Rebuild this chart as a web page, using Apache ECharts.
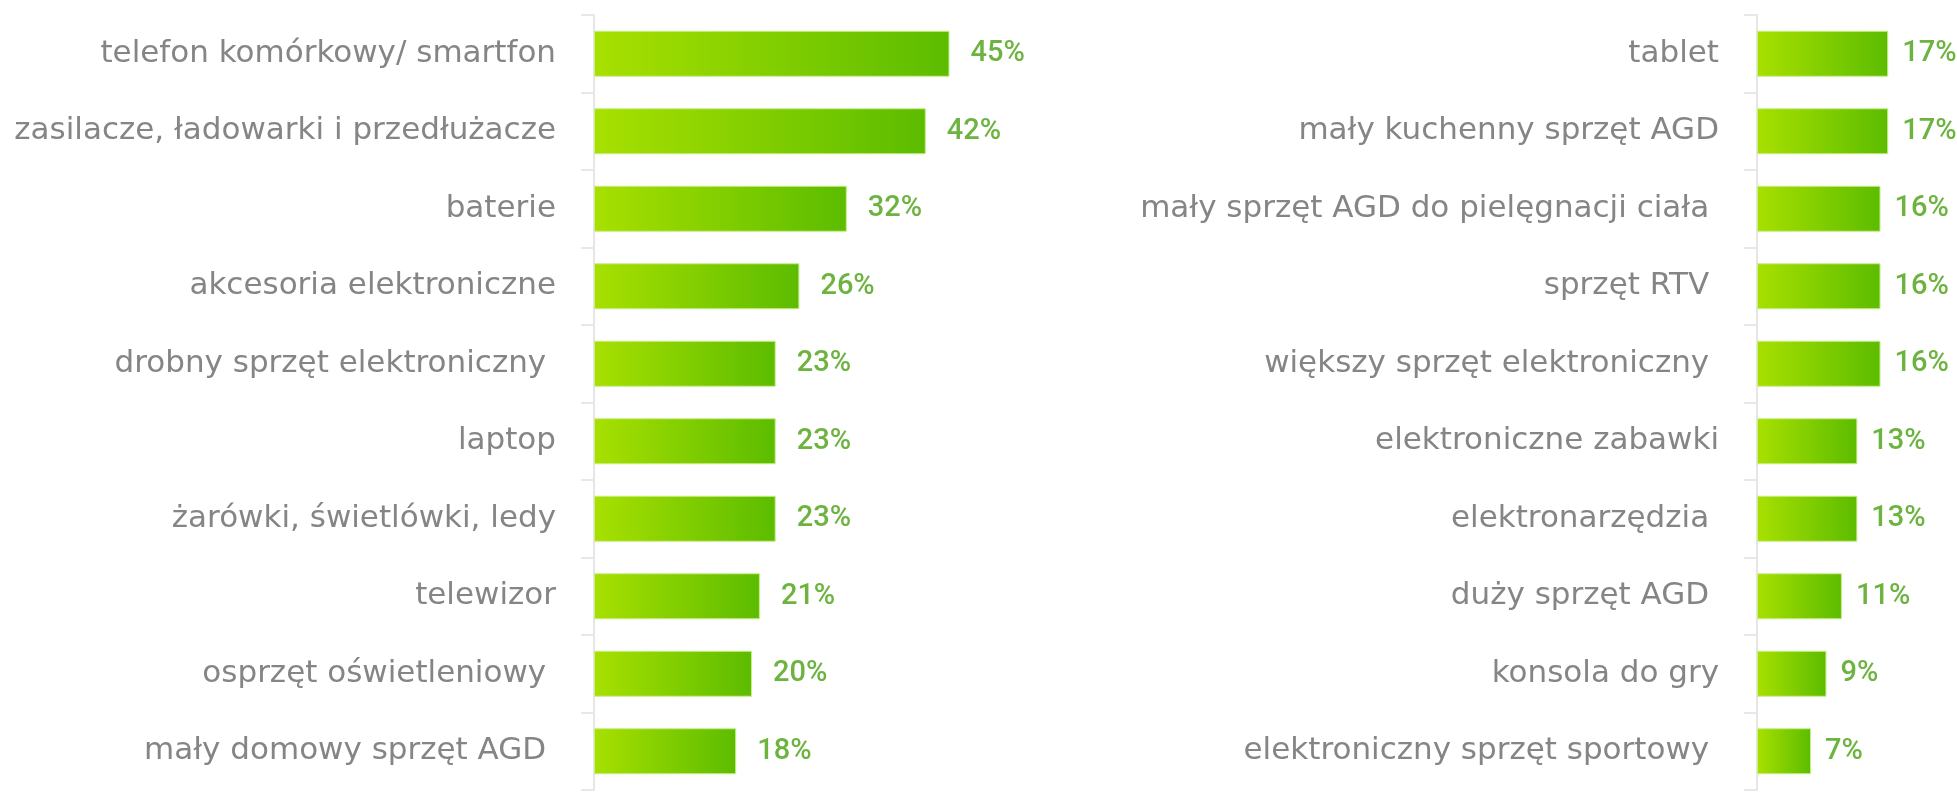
<!DOCTYPE html>
<html><head><meta charset="utf-8">
<script src="https://cdn.jsdelivr.net/npm/echarts@6/dist/echarts.min.js"></script>
<style>html,body{margin:0;padding:0;background:#fff}#c{width:1957px;height:792px}</style>
</head><body><div id="c"></div>
<script>
const leftCategories = ['telefon komórkowy/ smartfon','zasilacze, ładowarki i przedłużacze','baterie','akcesoria elektroniczne','drobny sprzęt elektroniczny ','laptop','żarówki, świetlówki, ledy','telewizor','osprzęt oświetleniowy ','mały domowy sprzęt AGD '];
const leftValues = [45,42,32,26,23,23,23,21,20,18];
const rightCategories = ['tablet','mały kuchenny sprzęt AGD','mały sprzęt AGD do pielęgnacji ciała ','sprzęt RTV ','większy sprzęt elektroniczny ','elektroniczne zabawki','elektronarzędzia ','duży sprzęt AGD ','konsola do gry','elektroniczny sprzęt sportowy '];
const rightValues = [17,17,16,16,16,13,13,11,9,7];

const grad = new echarts.graphic.LinearGradient(0,0,1,0,[{offset:0,color:'#a8e000'},{offset:1,color:'#5cbc00'}]);
const labelFont = {fontFamily:'DejaVu Sans', fontSize:31, color:'#858585'};
function yAx(idx, cats){
  return {type:'category', gridIndex:idx, data:cats, inverse:true,
    axisLine:{lineStyle:{color:'#e6e6e6', width:2}},
    axisTick:{show:true, length:13, lineStyle:{color:'#e8e8e8', width:2}},
    axisLabel:Object.assign({margin:38}, labelFont)};
}
function xAx(idx, max){
  return {type:'value', gridIndex:idx, min:0, max:max, show:false, splitLine:{show:false}};
}
function ser(idx, vals, dist){
  return {type:'bar', xAxisIndex:idx, yAxisIndex:idx, data:vals, barWidth:46,
    itemStyle:{color:grad, borderColor:'#c8ee88', borderWidth:1},
    label:{show:true, position:'right', distance:dist, formatter:'{c}%', fontFamily:'Roboto', fontWeight:500, fontSize:29, color:'#6cb33f'}};
}
const chart = echarts.init(document.getElementById('c'));
chart.setOption({
  animation:false,
  grid:[{left:594, top:15, width:395, height:775, containLabel:false, outerBoundsMode:'none'},
        {left:1757, top:15, width:193, height:775, containLabel:false, outerBoundsMode:'none'}],
  xAxis:[xAx(0,50), xAx(1,25)],
  yAxis:[yAx(0,leftCategories), yAx(1,rightCategories)],
  series:[ser(0,leftValues,21), ser(1,rightValues,14)]
});
</script></body></html>
